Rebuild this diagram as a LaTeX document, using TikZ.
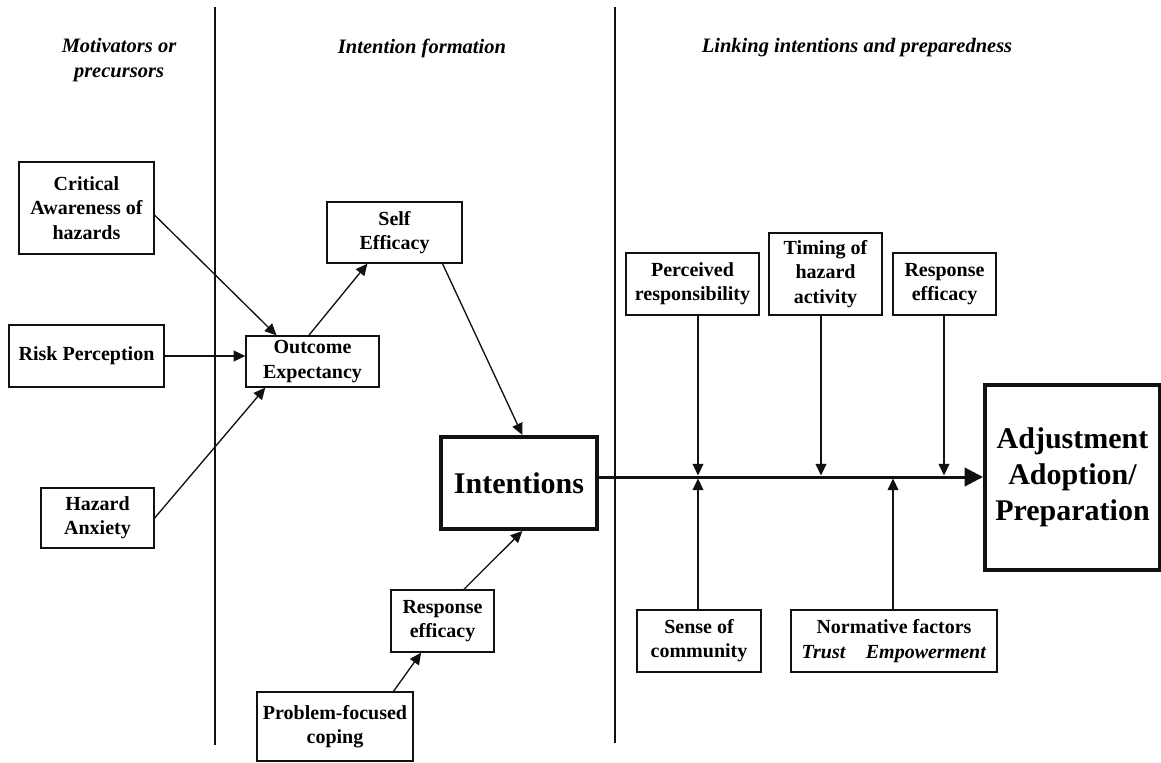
\documentclass[tikz,border=0pt]{standalone}
\usepackage{fontspec}
\setmainfont{Liberation Serif}
\usetikzlibrary{arrows.meta}
\definecolor{ink}{HTML}{111111}
\newcommand{\factor}[6]{%
  \node[box, minimum width=#4*0.6pt, minimum height=#5*0.6pt] (#1) at (#2,#3) {#6};}

\begin{document}
\begin{tikzpicture}[x=0.6pt,y=-0.6pt,
  box/.style={draw=ink, line width=0.8pt, inner sep=0pt, align=center,
    font=\fontsize{12}{14.5}\selectfont\bfseries},
  bigbox/.style={box, line width=2.4pt, font=\fontsize{18}{21.6}\selectfont\bfseries},
  head/.style={align=center, font=\fontsize{12.3}{15}\selectfont\bfseries\itshape},
  link/.style={draw=ink, line width=0.8pt, -{Triangle[length=7pt,width=6.5pt]}}]
  \useasboundingbox (0,0) rectangle (1161,763);
  % column dividers and headings
  \draw[ink, line width=0.8pt] (215,7) -- (215,745);
  \draw[ink, line width=0.8pt] (615,7) -- (615,743);
  \node[head] (hmot) at (119,60) {Motivators or\\precursors};
  \node[head] (hint) at (422,48) {Intention formation};
  \node[head] (hlink) at (857,48) {Linking intentions and preparedness};
  % motivators
  \factor{crit}{86.5}{208}{135}{92}{Critical\\Awareness of\\hazards}
  \factor{risk}{86.5}{356}{155}{62}{Risk Perception}
  \factor{anx}{97.5}{518}{113}{60}{Hazard\\Anxiety}
  % intention formation
  \factor{outc}{312.5}{361.5}{133}{51}{Outcome\\Expectancy}
  \factor{self}{394.5}{232.5}{135}{61}{Self\\Efficacy}
  \factor{resp}{442.5}{621}{103}{62}{Response\\efficacy}
  \factor{pfc}{335}{726.5}{156}{69}{Problem-focused\\coping}
  \node[bigbox, minimum width=156*0.6pt, minimum height=92*0.6pt] (intent) at (519,483) {Intentions};
  % linking intentions and preparedness
  \factor{perc}{692.5}{284}{133}{62}{Perceived\\responsibility}
  \factor{timing}{825.5}{274}{113}{82}{Timing of\\hazard\\activity}
  \factor{reff}{944.5}{284}{103}{62}{Response\\efficacy}
  \factor{sense}{699}{641}{124}{62}{Sense of\\community}
  \factor{norm}{894}{641}{206}{62}{Normative factors\\\textit{Trust}\quad\textit{Empowerment}}
  \node[bigbox, minimum width=175*0.6pt, minimum height=185*0.6pt] (adj) at (1072.5,477.5) {Adjustment\\Adoption/\\Preparation};
  % points where the factors meet the main path
  \coordinate (t1) at (698,475.5);
  \coordinate (t2) at (821,475.5);
  \coordinate (t3) at (944,475.5);
  \coordinate (b1) at (698,478.5);
  \coordinate (b2) at (893,478.5);
  % connectors
  \draw[link] (crit.-6) -- (outc.144);
  \draw[link] (risk.east) -- (risk.east -| outc.west);
  \draw[link] (anx.east) -- (outc.209);
  \draw[link] (outc.98) -- (self.229);
  \draw[link] (self.327) -- (intent.86);
  \draw[link] (pfc.31) -- (resp.236);
  \draw[link] (resp.56) -- (intent.274);
  \draw[ink, line width=1.8pt, -{Triangle[length=11pt,width=11pt]}]
    (intent.east |- 0,477) -- (adj.west |- 0,477);
  \draw[link] (perc.south -| t1) -- (t1);
  \draw[link] (timing.south -| t2) -- (t2);
  \draw[link] (reff.south -| t3) -- (t3);
  \draw[link] (sense.north -| b1) -- (b1);
  \draw[link] (norm.north -| b2) -- (b2);
\end{tikzpicture}
\end{document}
